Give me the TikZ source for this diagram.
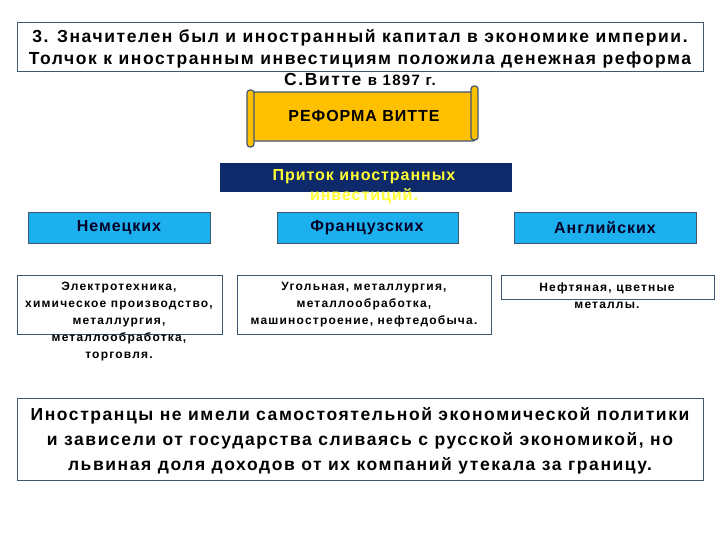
\documentclass[tikz,border=0pt]{standalone}
\usepackage{fontspec}
\setmainfont{Liberation Sans}
\newfontfamily\titlefont{Liberation Sans}[LetterSpace=9]
\newfontfamily\boxfont{Liberation Sans}[LetterSpace=6]
\newfontfamily\smallfont{Liberation Sans}[LetterSpace=10]
\definecolor{edge}{HTML}{3F5872}
\definecolor{navy}{HTML}{0E2A6B}
\definecolor{cyanbox}{HTML}{1DB0EE}
\definecolor{scrollyel}{HTML}{FFC000}
\definecolor{txtyel}{HTML}{FFFF33}
\tikzset{
  x=1pt,y=-1pt,
  frame/.style={draw=edge, line width=1pt, fill=white},
  cyanbox/.style={draw=edge, line width=1pt, fill=cyanbox},
  small/.style={font=\smallfont\bfseries\fontsize{12}{17}\selectfont, align=center, text=black},
  country/.style={font=\boxfont\bfseries\fontsize{16}{17}\selectfont, text=black!85!blue},
}
\begin{document}
\begin{tikzpicture}
\useasboundingbox (0,0) rectangle (720,540);
% title
\draw[frame] (17,23) rectangle (703,72);
\node[font=\titlefont\bfseries\fontsize{17.5}{21.5}\selectfont, align=center, anchor=north] (title) at (360,26)
  {3. Значителен был и иностранный капитал в экономике империи.\\
   Толчок к иностранным инвестициям положила денежная реформа\\
   С.Витте {\fontsize{15}{21.5}\selectfont в 1897 г.}};
% scroll
\draw[draw=edge, line width=1.2pt, fill=scrollyel, rounded corners=2pt] (252,92) rectangle (475,141);
\draw[draw=edge, line width=1.2pt, fill=scrollyel, rounded corners=3pt] (247,90) rectangle (254,147);
\draw[draw=edge, line width=1.2pt, fill=scrollyel, rounded corners=3pt] (471,86) rectangle (478,140);
\node[font=\boxfont\bfseries\fontsize{16}{17}\selectfont] (reform) at (364,116) {РЕФОРМА ВИТТЕ};
% inflow
\fill[navy] (220,163) rectangle (512,192);
\node[font=\boxfont\bfseries\fontsize{16}{20}\selectfont, text=txtyel, align=center, anchor=north] (inflow) at (364,166)
  {Приток иностранных\\инвестиций.};
% countries
\draw[cyanbox] (28,213) rectangle (210,243);
\node[country] (de) at (119,228) {Немецких};
\draw[cyanbox] (277,213) rectangle (458,243);
\node[country] (fr) at (367,228) {Французских};
\draw[cyanbox] (514,213) rectangle (696,243);
\node[country] (en) at (605,228) {Английских};
% industries
\draw[frame] (17,275) rectangle (222,334);
\draw[frame] (237,275) rectangle (491,334);
\draw[frame] (501,275) rectangle (714,299);
\node[small, anchor=north] (ind1) at (119,279) {Электротехника,\\химическое производство,\\металлургия,\\металлообработка,\\торговля.};
\node[small, anchor=north] (ind2) at (364,279) {Угольная, металлургия,\\металлообработка,\\машиностроение, нефтедобыча.};
\node[small, anchor=north] (ind3) at (607,279) {Нефтяная, цветные\\металлы.};
% conclusion
\draw[frame] (17,398) rectangle (703,480);
\node[font=\titlefont\bfseries\fontsize{17.5}{25}\selectfont, align=center] (concl) at (360,441)
  {Иностранцы не имели самостоятельной экономической политики\\
   и зависели от государства сливаясь с русской экономикой, но\\
   львиная доля доходов от их компаний утекала за границу.};
\end{tikzpicture}
\end{document}
